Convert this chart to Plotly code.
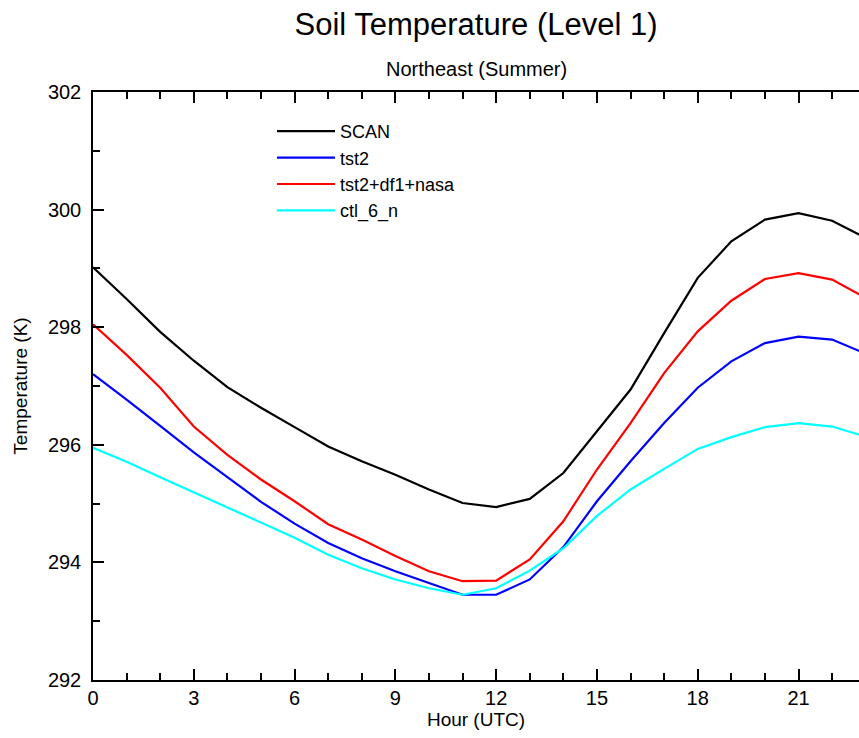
import plotly.graph_objects as go

hours = list(range(24))
scan = [299.02, 298.48, 297.92, 297.43, 296.98, 296.63, 296.30, 295.97, 295.72, 295.49, 295.24, 295.01,
        294.94, 295.08, 295.52, 296.23, 296.94, 297.90, 298.84, 299.46, 299.83, 299.94, 299.81, 299.52]
tst2 = [297.20, 296.77, 296.32, 295.87, 295.45, 295.03, 294.66, 294.33, 294.07, 293.85, 293.65, 293.45,
        293.45, 293.71, 294.26, 295.04, 295.72, 296.37, 296.97, 297.42, 297.73, 297.84, 297.79, 297.55]
tst2_df1_nasa = [298.05, 297.53, 296.97, 296.31, 295.83, 295.41, 295.04, 294.65, 294.39, 294.11, 293.85, 293.68,
                 293.69, 294.05, 294.70, 295.58, 296.37, 297.22, 297.93, 298.45, 298.82, 298.92, 298.81, 298.50]
ctl_6_n = [295.95, 295.71, 295.45, 295.19, 294.93, 294.68, 294.42, 294.13, 293.90, 293.71, 293.56, 293.45,
           293.56, 293.86, 294.24, 294.79, 295.24, 295.59, 295.93, 296.13, 296.30, 296.37, 296.31, 296.14]

series_names = ["SCAN", "tst2", "tst2+df1+nasa", "ctl_6_n"]
series_values = [scan, tst2, tst2_df1_nasa, ctl_6_n]
series_colors = ["#000000", "#0000ff", "#ff0000", "#00ffff"]

x_tickvals = [0, 3, 6, 9, 12, 15, 18, 21]
y_tickvals = [292, 294, 296, 298, 300, 302]

FONT = "Liberation Sans, Arial, sans-serif"

fig = go.Figure()
for name, vals, col in zip(series_names, series_values, series_colors):
    fig.add_trace(go.Scatter(x=hours, y=vals, mode="lines", name=name,
                             line=dict(color=col, width=2.2)))

fig.update_layout(
    width=859, height=738,
    margin=dict(l=93, r=0, t=92, b=58),
    paper_bgcolor="white", plot_bgcolor="white",
    font=dict(family=FONT, size=20, color="black"),
    title=dict(text="Soil Temperature (Level 1)", font=dict(size=31, family=FONT, color="black"),
               xref="paper", x=0.5, xanchor="center", yref="container", y=1 - 24 / 738, yanchor="middle"),
    showlegend=True,
    legend=dict(x=(272 - 93) / 766, y=(680 - 113) / 588, xanchor="left", yanchor="top",
                bgcolor="rgba(0,0,0,0)", borderwidth=0, font=dict(size=18, family=FONT),
                itemwidth=58, tracegroupgap=0),
    xaxis=dict(range=[0, 22.8], tickvals=x_tickvals, ticks="inside", ticklen=11, tickwidth=1.5,
               tickcolor="black", showline=True, linecolor="black", linewidth=1.5, mirror="ticks",
               showgrid=False, zeroline=False, tickfont=dict(size=20, family=FONT),
               minor=dict(dtick=1, ticks="inside", ticklen=7, tickwidth=1.5, tickcolor="black", showgrid=False),
               title=dict(text="Hour (UTC)", font=dict(size=19, family=FONT), standoff=5),
               ticklabelstandoff=-1),
    yaxis=dict(range=[292, 302], tickvals=y_tickvals, ticks="inside", ticklen=11, tickwidth=1.5,
               tickcolor="black", showline=True, linecolor="black", linewidth=1.5,
               showgrid=False, zeroline=False, tickfont=dict(size=20, family=FONT),
               minor=dict(dtick=1, ticks="inside", ticklen=7, tickwidth=1.5, tickcolor="black", showgrid=False),
               title=dict(text="Temperature (K)", font=dict(size=19, family=FONT), standoff=15),
               ticklabelstandoff=6),
    yaxis2=dict(range=[292, 302], overlaying="y", side="right", anchor="x",
                tickvals=y_tickvals, ticks="inside", ticklen=6, tickwidth=1.5, tickcolor="black",
                showticklabels=False, showline=False, showgrid=False, zeroline=False,
                minor=dict(dtick=1, ticks="inside", ticklen=2, tickwidth=1.5, tickcolor="black", showgrid=False)),
    annotations=[dict(text="Northeast (Summer)", xref="paper", yref="paper", x=0.5, y=(680 - 69) / 588,
                      xanchor="center", yanchor="middle", showarrow=False,
                      font=dict(size=20, family=FONT, color="black"))],
)

fig.write_html("out.html", config={"displayModeBar": False},
               post_script="document.body.style.margin='0';")
